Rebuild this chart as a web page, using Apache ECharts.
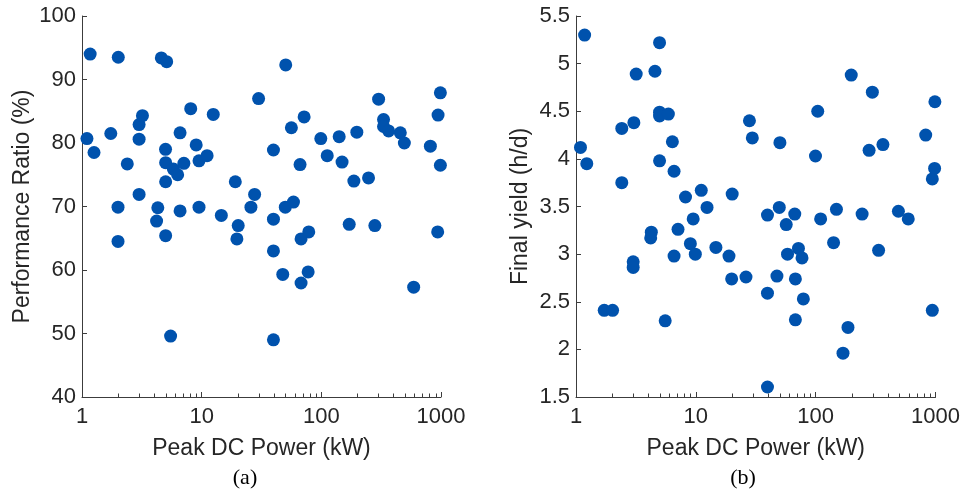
<!DOCTYPE html>
<html>
<head>
<meta charset="utf-8">
<script src="https://cdn.jsdelivr.net/npm/echarts@6/dist/echarts.min.js"></script>
<style>
html,body{margin:0;padding:0;background:#fff;}
#chart{width:963px;height:494px;}
</style>
</head>
<body>
<div id="chart"></div>
<script>
// (a) Performance Ratio vs Peak DC Power
const powerA = [1.10,1.17,1.26,1.74,2.01,2.0,2.0,2.39,3.0,3.0,3.0,3.2,4.3,4.2,4.6,5.1,4.99,5.0,5.0,5.0,5.5,5.8,6.3,6.6,6.6,7.1,8.1,9.0,9.5,9.5,11.1,12.5,14.6,19.1,20.2,19.7,25.8,27.7,29.9,39.8,39.8,39.8,39.8,47.6,50.4,50,56.2,58.5,66.4,67.7,67.7,71.8,78.5,77.6,99,112,141,149,171,187,198,248,280,301,331,331,365,457,494,591,815,945,988,988,938];
const prA = [80.7,94.0,78.5,81.5,93.5,69.9,64.5,76.7,71.9,80.6,82.9,84.3,69.8,67.7,93.4,92.8,79.0,76.9,73.9,65.4,49.6,75.9,75.0,81.6,69.3,76.8,85.4,79.7,77.2,69.9,78.0,84.5,68.6,73.9,67.0,64.9,69.9,71.9,87.0,78.9,68.0,63.0,49.0,59.3,92.3,69.9,82.4,70.7,76.6,64.9,57.95,84.1,66.0,59.7,80.7,78.0,81.0,77.0,67.2,74.0,81.7,74.5,67.0,86.9,83.7,82.6,81.9,81.6,80.0,57.3,79.5,84.4,87.9,76.5,66.0];
// (b) Final yield vs Peak DC Power
const powerB = [1.18,1.09,1.23,1.72,2.02,2.41,2.41,3.04,3.18,3.0,3.0,4.56,4.25,4.2,4.98,4.98,4.98,5.9,4.98,5.55,6.37,6.58,6.58,7.1,8.2,9.0,9.5,9.9,11.1,12.4,14.7,18.9,20.1,19.9,26.2,28,29.6,39.6,39.6,39.6,47.5,49.7,50.3,56.8,58.2,66.9,67.7,67.7,71.8,76.9,78.9,99.6,104,110,141,149,169,186,198,244,279,297,335,364,490,592,828,940,982,988,940];
const yieldB = [5.30,4.12,3.95,2.41,2.41,4.32,3.75,4.38,4.89,2.92,2.86,4.92,3.23,3.17,5.22,4.49,4.45,4.47,3.98,2.30,4.18,3.87,2.98,3.26,3.60,3.11,3.37,3.00,3.67,3.49,3.07,2.98,3.63,2.74,2.76,4.40,4.22,3.41,2.59,1.605,2.77,3.49,4.17,3.31,3.00,3.42,2.74,2.31,3.06,2.96,2.53,4.03,4.50,3.37,3.12,3.47,1.96,2.23,4.88,3.42,4.09,4.70,3.04,4.15,3.45,3.37,4.25,3.79,3.90,4.60,2.41];
// log-axis minor tick positions
const minorTicks = [2,3,4,5,6,7,8,9,20,30,40,50,60,70,80,90,200,300,400,500,600,700,800,900];
const yMinA = 40, yMaxA = 100, yStepA = 10;
const yMinB = 1.5, yMaxB = 5.5, yStepB = 0.5;

const txt = '#262626';
const axisCol = '#3c3c3c';
const dot = '#0052ad';
const font = 'Liberation Sans, Arial, sans-serif';
const serif = 'Liberation Serif, Times New Roman, serif';

function xAxisCfg(gridIndex){
  return {
    type:'log', logBase:10, min:1, max:1000, splitNumber:3, gridIndex,
    name:'Peak DC Power (kW)', nameLocation:'middle', nameGap:40,
    nameTextStyle:{fontSize:23, color:txt, fontFamily:font},
    axisLine:{show:true, lineStyle:{color:axisCol, width:1}},
    axisTick:{show:true, inside:true, length:5, lineStyle:{color:axisCol}},
    axisLabel:{fontSize:22, color:txt, fontFamily:font, margin:9, showMinLabel:true, showMaxLabel:true,
               formatter:v=>String(Math.round(v))},
    splitLine:{show:false}
  };
}
function yAxisCfg(gridIndex, name, min, max, step, gap){
  return {
    type:'value', min, max, interval:step, gridIndex,
    name, nameLocation:'middle', nameGap:gap,
    nameTextStyle:{fontSize:23, color:txt, fontFamily:font},
    axisLine:{show:true, lineStyle:{color:axisCol, width:1}},
    axisTick:{show:true, inside:true, length:5, lineStyle:{color:axisCol}},
    axisLabel:{fontSize:22, color:txt, fontFamily:font, margin:6},
    splitLine:{show:false}
  };
}
function minorSeries(idx, yBase){
  return {
    type:'custom', xAxisIndex:idx, yAxisIndex:idx, silent:true, z:10, clip:false,
    data: minorTicks.map(v=>[v,yBase]),
    renderItem:function(params, api){
      const p = api.coord([api.value(0), api.value(1)]);
      const x = Math.round(p[0]) + 0.5;
      return {type:'line', shape:{x1:x, y1:p[1], x2:x, y2:p[1]-3.5},
              style:{stroke:axisCol, lineWidth:1}};
    }
  };
}

const chart = echarts.init(document.getElementById('chart'), null, {renderer:'canvas'});
chart.setOption({
  animation:false,
  backgroundColor:'#fff',
  grid:[
    {left:82, top:16, width:359, height:381},
    {left:576, top:16, width:364, height:381}
  ],
  xAxis:[xAxisCfg(0), xAxisCfg(1)],
  yAxis:[
    yAxisCfg(0,'Performance Ratio (%)', yMinA, yMaxA, yStepA, 48),
    yAxisCfg(1,'Final yield (h/d)', yMinB, yMaxB, yStepB, 44)
  ],
  graphic:[
    {type:'text', style:{text:'(a)', x:245, y:478, fontSize:22, fontFamily:serif, fill:'#000', align:'center', verticalAlign:'middle'}},
    {type:'text', style:{text:'(b)', x:743, y:478, fontSize:22, fontFamily:serif, fill:'#000', align:'center', verticalAlign:'middle'}}
  ],
  series:[
    {type:'scatter', xAxisIndex:0, yAxisIndex:0, symbol:'circle', symbolSize:13,
     itemStyle:{color:dot, opacity:1}, data: powerA.map((p,i)=>[p, prA[i]])},
    {type:'scatter', xAxisIndex:1, yAxisIndex:1, symbol:'circle', symbolSize:13,
     itemStyle:{color:dot, opacity:1}, data: powerB.map((p,i)=>[p, yieldB[i]])},
    minorSeries(0, yMinA),
    minorSeries(1, yMinB)
  ]
});
</script>
</body>
</html>
